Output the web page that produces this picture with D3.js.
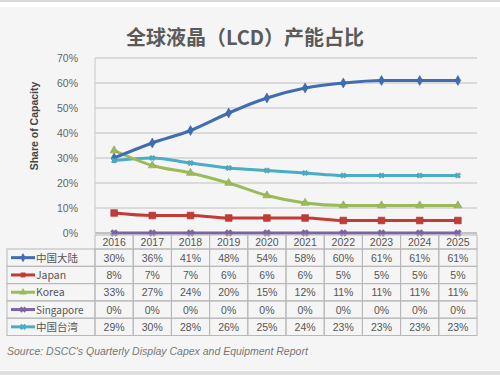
<!DOCTYPE html>
<html>
<head>
<meta charset="utf-8">
<script src="https://cdn.jsdelivr.net/npm/d3@7"></script>
<style>
  body { margin: 0; background: #fff; }
  svg { display: block; }
</style>
</head>
<body>
<div id="plotRegi"></div>
<script>
/* Data */
const years = ["2016", "2017", "2018", "2019", "2020", "2021", "2022", "2023", "2024", "2025"]
const seriesNames = ["中国大陆", "Japan", "Korea", "Singapore", "中国台湾"]
const mainland = [30, 36, 41, 48, 54, 58, 60, 61, 61, 61]
const japan = [8, 7, 7, 6, 6, 6, 5, 5, 5, 5]
const korea = [33, 27, 24, 20, 15, 12, 11, 11, 11, 11]
const singapore = [0, 0, 0, 0, 0, 0, 0, 0, 0, 0]
const taiwan = [29, 30, 28, 26, 25, 24, 23, 23, 23, 23]
const yTicks = [0, 10, 20, 30, 40, 50, 60, 70]

const colors = ["#3f6db3", "#c23b36", "#9bbb59", "#7d63a5", "#4bacc6"]
const symbols = [d3.symbolDiamond, d3.symbolSquare, d3.symbolTriangle, d3.symbolCross, d3.symbolCross]

const series = [mainland, japan, korea, singapore, taiwan].map((v, i) => ({
    name: seriesNames[i], values: v, color: colors[i], symbol: symbols[i], id: i
}))

/* Layout */
const W = 500, H = 375
const plotLeft = 95, plotRight = 477, plotTop = 58, plotBottom = 233
const tableTop = 235, headH = 14, rowH = 17.3, tableLeft = 7

const svg = d3.select("#plotRegi").append("svg")
    .attr("width", W).attr("height", H)
    .style("font-family", "Arial, 'Liberation Sans', sans-serif")

// Background frame
svg.append("rect").attr("width", W).attr("height", H).attr("fill", "#fff")
svg.append("rect").attr("x", 0).attr("y", 0).attr("width", W).attr("height", 2).attr("fill", "#d9d9d9")
svg.append("rect").attr("x", 0).attr("y", 7).attr("width", W).attr("height", 363).attr("fill", "#f5f5f5")
svg.append("rect").attr("x", 0).attr("y", 371).attr("width", W).attr("height", 4).attr("fill", "#e0e0e0")

// Scales
const x = d3.scaleBand().domain(years).range([plotLeft, plotRight])
const y = d3.scaleLinear().domain([0, 70]).range([plotBottom, plotTop])

// Title
svg.append("text")
    .attr("x", 245).attr("y", 45)
    .attr("text-anchor", "middle")
    .style("font-family", "'Noto Sans CJK SC', sans-serif")
    .style("font-size", "20px").style("font-weight", "bold")
    .attr("fill", "#5a5a5a")
    .text("全球液晶（LCD）产能占比")

// Gridlines
svg.append("g").selectAll("line").data(yTicks).enter().append("line")
    .attr("x1", plotLeft).attr("x2", plotRight)
    .attr("y1", d => y(d)).attr("y2", d => y(d))
    .attr("stroke", d => d === 0 ? "#b0b0b0" : "#d0d0d0").attr("stroke-width", 1.5)

svg.append("line")
    .attr("x1", plotLeft).attr("x2", plotLeft)
    .attr("y1", plotTop).attr("y2", plotBottom)
    .attr("stroke", "#c8c8c8")

// Y axis
const axisY = svg.append("g")
    .attr("transform", "translate(" + plotLeft + ",0)")
    .call(d3.axisLeft(y).tickValues(yTicks).tickFormat(d => d + "%").tickSize(0).tickPadding(17))
axisY.select(".domain").remove()
axisY.selectAll("text").style("font-size", "10.5px").attr("fill", "#666")

svg.append("text")
    .attr("transform", "translate(38,126) rotate(-90)")
    .attr("text-anchor", "middle")
    .style("font-size", "10.5px").style("font-weight", "bold")
    .attr("fill", "#444")
    .text("Share of Capacity")

// Lines
const line = d3.line()
    .x((d, i) => x(years[i]) + x.bandwidth() / 2)
    .y(d => y(d))
    .curve(d3.curveMonotoneX)

const lines = svg.append("g")
lines.selectAll("path").data(series.slice().reverse()).enter().append("path")
    .attr("d", d => line(d.values))
    .attr("fill", "none")
    .attr("stroke", d => d.color)
    .attr("stroke-width", 3)
    .attr("stroke-linejoin", "round")

// Markers
series.forEach(s => {
    svg.append("g").selectAll("path").data(s.values).enter().append("path")
        .attr("transform", (d, i) => "translate(" + (x(years[i]) + x.bandwidth() / 2) + "," + y(d) + ")" + (s.id >= 3 ? " rotate(45)" : ""))
        .attr("d", d3.symbol().type(s.symbol).size(s.id === 1 ? 45 : s.id === 4 ? 18 : 28))
        .attr("fill", s.color)
        .attr("stroke", d3.color(s.color).darker(0.3))
        .attr("stroke-width", 0.6)
})

// Data table
const table = svg.append("g").style("font-size", "10.5px").attr("fill", "#555")
const gridColor = "#b8b8b8"

// Header row
table.selectAll(".yr").data(years).enter().append("rect")
    .attr("x", d => x(d)).attr("y", tableTop)
    .attr("width", x.bandwidth()).attr("height", headH)
    .attr("fill", "none").attr("stroke", gridColor)
table.selectAll(".yrt").data(years).enter().append("text")
    .attr("x", d => x(d) + x.bandwidth() / 2).attr("y", tableTop + headH - 3)
    .attr("text-anchor", "middle").attr("fill", "#555")
    .text(d => d)

// Series rows
series.forEach((s, r) => {
    const top = tableTop + headH + r * rowH
    table.append("rect")
        .attr("x", tableLeft).attr("y", top)
        .attr("width", plotLeft - tableLeft).attr("height", rowH)
        .attr("fill", "none").attr("stroke", gridColor)
    table.append("line")
        .attr("x1", tableLeft + 4).attr("x2", tableLeft + 28)
        .attr("y1", top + rowH / 2).attr("y2", top + rowH / 2)
        .attr("stroke", s.color).attr("stroke-width", 3)
    table.append("path")
        .attr("transform", "translate(" + (tableLeft + 16) + "," + (top + rowH / 2) + ")" + (s.id >= 3 ? " rotate(45)" : ""))
        .attr("d", d3.symbol().type(s.symbol).size(24))
        .attr("fill", s.color)
    table.append("text")
        .attr("x", tableLeft + 29).attr("y", top + rowH / 2 + 4)
        .attr("fill", "#555")
        .style("font-family", "'Noto Sans CJK SC', Arial, sans-serif")
        .style("font-size", s.id === 3 ? "10px" : "10.5px")
        .text(s.name)

    table.selectAll(".c" + r).data(s.values).enter().append("rect")
        .attr("x", (d, i) => x(years[i])).attr("y", top)
        .attr("width", x.bandwidth()).attr("height", rowH)
        .attr("fill", "none").attr("stroke", gridColor)
    table.selectAll(".t" + r).data(s.values).enter().append("text")
        .attr("x", (d, i) => x(years[i]) + x.bandwidth() / 2).attr("y", top + rowH / 2 + 4)
        .attr("text-anchor", "middle").attr("fill", "#555")
        .text(d => d + "%")
})

// Source
svg.append("text")
    .attr("x", 7).attr("y", 355)
    .style("font-size", "10.5px").style("font-style", "italic")
    .attr("fill", "#777")
    .text("Source: DSCC's Quarterly Display Capex and Equipment Report")
</script>
</body>
</html>
